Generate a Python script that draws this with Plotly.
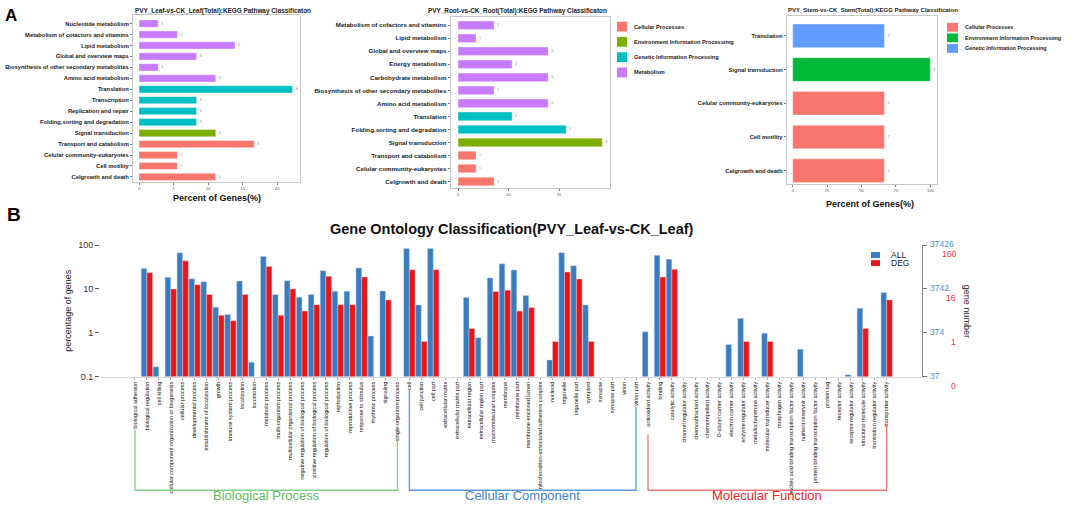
import math
import plotly.graph_objects as go

W, H = 1072, 507
def px(x): return x / W
def py(y): return 1 - y / H

FONT = "Liberation Sans"

# ---------------- Panel A data ----------------
leaf_cats = ["Nucleotide metabolism", "Metabolism of cotactors and vitamins", "Lipid metabolism",
             "Global and overview maps", "Biosynthesis of other secondary metabolites",
             "Amino acid metabolism", "Translation", "Transcription", "Replication and repair",
             "Folding,sorting and degradation", "Signal transduction", "Transport and catabolism",
             "Celular community-eukaryotes", "Cell motility", "Celgrowth and death"]
leaf_pct = [2.78, 5.56, 13.89, 8.33, 2.78, 11.11, 22.22, 8.33, 8.33, 8.33, 11.11, 16.67, 5.56, 5.56, 11.11]
leaf_cnt = [1, 2, 5, 3, 1, 4, 8, 3, 3, 3, 4, 6, 2, 2, 4]
leaf_cls = ["M", "M", "M", "M", "M", "M", "G", "G", "G", "G", "E", "C", "C", "C", "C"]

root_cats = ["Metabolism of cofactors and vitamins", "Lipid metabolism", "Global and overview maps",
             "Energy metabolism", "Carbohydrate metabolism", "Biosynthesis of other secondary metabolites",
             "Amino acid metabolism", "Translation", "Folding,sorting and degradation",
             "Signal transduction", "Transport and catabolism", "Celular community-eukaryotes",
             "Celgrowth and death"]
root_pct = [7.14, 3.57, 17.86, 10.71, 17.86, 7.14, 17.86, 10.71, 21.43, 28.57, 3.57, 3.57, 7.14]
root_cnt = [2, 1, 5, 3, 5, 2, 5, 3, 6, 8, 1, 1, 2]
root_cls = ["M", "M", "M", "M", "M", "M", "M", "G", "G", "E", "C", "C", "C"]

stem_cats = ["Translation", "Signal transduction", "Celular community-eukaryotes", "Cell motility",
             "Celgrowth and death"]
stem_pct = [66.67, 100, 66.67, 66.67, 66.67]
stem_cnt = [2, 3, 2, 2, 2]
stem_cls = ["G", "E", "C", "C", "C"]

pal4 = {"C": "#F8766D", "E": "#7CAE00", "G": "#00BFC4", "M": "#C77CFF"}
pal3 = {"C": "#F8766D", "E": "#00BA38", "G": "#619CFF"}
root_legend = ["Cellular Processes", "Environment Information Processimg",
               "Genetic Information Processing", "Metabolism"]
stem_legend = ["Cellular Processes", "Environment Information Processimg",
               "Genetic Information Processing"]

# ---------------- Panel B data ----------------
go_cats = ["biological adhesion", "biological regulation", "cell killing",
           "cellular component organization or biogenesis", "cellular process", "developmental process",
           "establishment of localization", "growth", "immune system process", "localization",
           "locomotion", "metabolic process", "multi-organism process", "multicellular organismal process",
           "negative regulation of biological process", "positive regulation of biological process",
           "regulation of biological process", "reproduction", "reproductive process",
           "response to stimulus", "rhythmic process", "signaling", "single-organism process",
           "cell", "cell junction", "cell part", "extracellular matrix", "extracellular matrix part",
           "extracellular region", "extracellular region part", "macromolecular complex", "membrane",
           "membrane part", "membrane-enclosed lumen", "mitochondrion-associated adherens complex",
           "nucleoid", "organelle", "organelle part", "symplast", "synapse", "synapse part", "virion",
           "virion part",
           "antioxidant activity", "binding", "catalytic activity", "channel regulator activity",
           "chemoattractant activity", "chemorepellent activity", "D-alanyl carrier activity",
           "electron carrier activity", "enzyme regulator activity", "metallochaperone activity",
           "molecular transducer activity", "morphogen activity",
           "nucleic acid binding transcription factor activity", "nutrient reservoir activity",
           "protein binding transcription factor activity", "protein tag", "receptor activity",
           "receptor regulator activity", "structural molecule activity", "translation regulator activity",
           "transporter activity"]
go_all = [0, 29.5, 0.167, 18.6, 67.3, 17.0, 14.6, 3.82, 2.62, 15.1, 0.213, 54.8, 7.47, 15.4, 6.5, 7.47,
          26.2, 8.87, 8.87, 30.0, 0.84, 9.0, 0,
          84.1, 4.3, 84.1, 0, 0, 6.4, 0.77, 17.9, 37.6, 27.1, 7.1, 0, 0.24, 67.3, 33.9, 4.3, 0, 0, 0, 0,
          1.05, 58.8, 47.8, 0, 0, 0, 0, 0.54, 2.13, 0, 0.98, 0, 0, 0.42, 0, 0, 0, 0.11, 3.63, 0, 8.28]
go_deg = [0, 23.6, 0, 10.0, 43.8, 12.5, 7.5, 2.5, 1.88, 7.5, 0, 32.5, 2.5, 10.0, 3.13, 4.38,
          19.4, 4.38, 4.38, 18.8, 0, 5.63, 0,
          27.5, 0.63, 27.5, 0, 0, 1.25, 0, 8.75, 9.38, 3.13, 3.75, 0, 0.63, 24.4, 16.9, 0.63, 0, 0, 0, 0,
          0, 18.8, 28.1, 0, 0, 0, 0, 0, 0.63, 0, 0.63, 0, 0, 0, 0, 0, 0, 0, 1.25, 0, 5.63]
go_groups = [("Biological Process", 0, 22, "#86CF86", "#5DBB5D"),
             ("Cellular Component", 23, 42, "#5B9BD9", "#3C82CC"),
             ("Molecular Function", 43, 63, "#F07878", "#E82828")]
pct_ticks = [0.1, 1, 10, 100]
all_ticks = ["37", "374", "3742", "37426"]
deg_ticks = ["0", "1", "16", "160"]

fig = go.Figure()

def kegg(cats, pct, cnt, cls, pal, xa, ya, width):
    fig.add_trace(go.Bar(
        y=cats, x=pct, orientation="h", xaxis=xa, yaxis=ya, width=width,
        marker=dict(color=[pal[c] for c in cls], line=dict(color="rgba(255,255,255,0.6)", width=0.6)),
        text=[str(c) for c in cnt], textposition="outside", constraintext="none", cliponaxis=False,
        textfont=dict(size=3.5, color="#888", family=FONT), showlegend=False, hoverinfo="x+y"))

kegg(leaf_cats, leaf_pct, leaf_cnt, leaf_cls, pal4, "x", "y", 0.66)
kegg(root_cats, root_pct, root_cnt, root_cls, pal4, "x2", "y2", 0.66)
kegg(stem_cats, stem_pct, stem_cnt, stem_cls, pal3, "x3", "y3", 0.7)

# GO bars
fig.add_trace(go.Bar(x=go_cats, y=go_all, xaxis="x4", yaxis="y4", name="ALL",
                     marker=dict(color="#3A7CC0", line=dict(color="rgba(200,220,245,0.9)", width=0.5)),
                     showlegend=False))
fig.add_trace(go.Bar(x=go_cats, y=go_deg, xaxis="x4", yaxis="y4", name="DEG",
                     marker=dict(color="#E8161B", line=dict(color="rgba(250,200,200,0.9)", width=0.5)),
                     showlegend=False))
fig.add_trace(go.Scatter(x=[go_cats[0]], y=[1], xaxis="x4", yaxis="y5", mode="markers",
                         marker=dict(opacity=0), showlegend=False, hoverinfo="skip"))

box = dict(showline=True, mirror=True, linecolor="#C8C8C8", linewidth=1, ticks="outside",
           ticklen=2, tickcolor="#777", showgrid=False, zeroline=False)
xtf = dict(size=4, color="#555", family=FONT)
ytf = dict(size=5.8, color="#1a1a1a", family=FONT, weight="bold")

lay = dict(
    width=W, height=H, margin=dict(l=0, r=0, t=0, b=0), paper_bgcolor="white", plot_bgcolor="white",
    barmode="group", bargap=0.05, bargroupgap=0, font=dict(family=FONT),
    xaxis=dict(domain=[px(133), px(300)], range=[-0.87, 23.3], anchor="y", tickvals=[0, 5, 10, 15, 20],
               tickfont=xtf, **box),
    yaxis=dict(domain=[py(181), py(10)], range=[14.5, -0.8], anchor="x", tickfont=ytf, **box),
    xaxis2=dict(domain=[px(450.7), px(610)], range=[-1.45, 30.1], anchor="y2", tickvals=[0, 10, 20],
                tickfont=xtf, **box),
    yaxis2=dict(domain=[py(186.7), py(12.7)], range=[12.5, -0.6], anchor="x2",
                tickfont=dict(ytf, size=6.2), **box),
    xaxis3=dict(domain=[px(786.7), px(937.3)], range=[-4.36, 105.1], anchor="y3",
                tickvals=[0, 25, 50, 75, 100], tickfont=xtf, **box),
    yaxis3=dict(domain=[py(182.7), py(11.7)], range=[4.4, -0.575], anchor="x3", tickfont=ytf, **box),
    xaxis4=dict(domain=[px(100), px(921.7)], range=[-2.93, 65.94], anchor="y4", tickangle=-90,
                tickfont=dict(size=5.5, color="#111", family=FONT), showline=True, linecolor="#D8D8D8",
                ticks="outside", ticklen=2, tickcolor="#AAA", showgrid=False, zeroline=False),
    yaxis4=dict(domain=[py(379), py(245)], type="log", range=[-1, 2.0], anchor="x4",
                tickvals=pct_ticks, ticktext=["0.1", "1", "10", "100"],
                tickfont=dict(size=9, color="#333", family=FONT), ticks="outside", ticklen=4,
                tickcolor="#555", showline=False, showgrid=False, zeroline=False),
    yaxis5=dict(overlaying="y4", side="right", anchor="x4", type="log", range=[-1, 2.0],
                tickvals=pct_ticks, showticklabels=False, ticks="outside", ticklen=4, tickcolor="#777",
                showline=True, linecolor="#888", showgrid=False, zeroline=False),
)
fig.update_layout(**lay)

ann = []
shapes = []
def T(x, y, text, size, color="#111", bold=False, xa="left", ya="middle", angle=0, **kw):
    ann.append(dict(x=x, y=y, xref=kw.pop("xref", "paper"), yref=kw.pop("yref", "paper"), text=text,
                    showarrow=False, xanchor=xa, yanchor=ya, textangle=angle,
                    font=dict(size=size, color=color, family=FONT, weight="bold" if bold else "normal"),
                    **kw))

# panel letters & titles
T(px(3), py(11), "A", 17, "#000", True)
T(px(5), py(214), "B", 19, "#000", True)
T(px(133), py(6), "PVY_Leaf-vs-CK_Leaf(Total):KEGG Pathway Classificaton", 6.4, "#222", True)
T(px(426), py(6), "PVY_Root-vs-CK_Root(Total):KEGG Pathway Classificaton", 6.4, "#222", True)
T(px(873), py(5), "PVY_Stem-vs-CK_Stem(Total):KEGG Pathway Classificaton", 6.0, "#222", True, xa="center")
T(px(217), py(197), "Percent of Genes(%)", 9, "#111", True, xa="center")
T(px(870), py(203), "Percent of Genes(%)", 9, "#111", True, xa="center")

# Root legend
for i, (lab, key) in enumerate(zip(root_legend, ["C", "E", "G", "M"])):
    yc = 22 + i * 15.6
    shapes.append(dict(type="rect", xref="paper", yref="paper", x0=px(617), x1=px(627),
                       y0=py(yc + 5), y1=py(yc - 5), fillcolor=pal4[key], line=dict(width=0)))
    T(px(632), py(yc), lab, 5.6, "#222", True)
# Stem legend
for i, (lab, key) in enumerate(zip(stem_legend, ["C", "E", "G"])):
    yc = 22.7 + i * 10.8
    shapes.append(dict(type="rect", xref="paper", yref="paper", x0=px(947), x1=px(958),
                       y0=py(yc + 4.5), y1=py(yc - 4.5), fillcolor=pal3[key], line=dict(width=0)))
    T(px(963), py(yc), lab, 5.4, "#222", True)

# Panel B title & axis titles
T(px(512), py(228), "Gene Ontology Classification(PVY_Leaf-vs-CK_Leaf)", 14.5, "#111", True, xa="center")
T(px(68), py(312), "percentage of genes", 9, "#222", angle=-90, xa="center")
T(px(967), py(312), "gene number", 9, "#222", angle=90, xa="center")

# right axis labels (log axis: annotation y in log10 units)
for v, a, d in zip(pct_ticks, all_ticks, deg_ticks):
    T(px(928), math.log10(v), a, 8.5, "#4C8FD8", xa="left", yref="y4", yshift=1)
    T(px(958), math.log10(v), d, 8.5, "#F03030", xa="right", yref="y4", yshift=-9)

# B legend
for i, (lab, col) in enumerate([("ALL", "#3A7CC0"), ("DEG", "#E8161B")]):
    yc = 255 + i * 8.3
    shapes.append(dict(type="rect", xref="paper", yref="paper", x0=px(871), x1=px(880),
                       y0=py(yc + 3), y1=py(yc - 3), fillcolor=col, line=dict(width=0)))
    T(px(889), py(yc), lab, 8.5, "#222")

# group brackets
tops = {"Biological Process": (433, 438), "Cellular Component": (393, 410), "Molecular Function": (438, 427)}
for name, i0, i1, lc, tc in go_groups:
    t0, t1 = tops[name]
    shapes.append(dict(type="path", xref="x4", yref="paper",
                       path=f"M {i0},{py(t0)} L {i0},{py(495)} L {i1},{py(495)} L {i1},{py(t1)}",
                       line=dict(color=lc, width=1.3)))
    T((i0 + i1) / 2, py(500), name, 13, tc, xref="x4", xa="center")

fig.update_layout(annotations=ann, shapes=shapes)
fig.write_html("out.html", config={"displayModeBar": False},
               post_script="document.body.style.margin='0';document.body.style.overflow='hidden';")
